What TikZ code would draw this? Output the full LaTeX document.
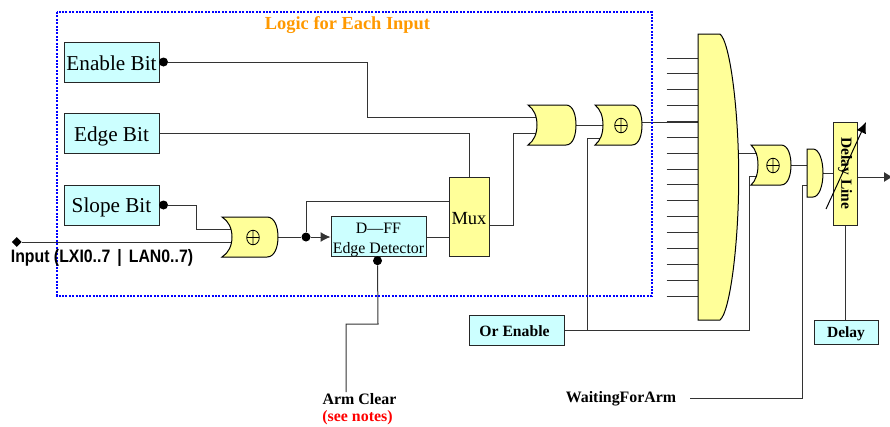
\documentclass[tikz,border=0pt]{standalone}
\usepackage{fontspec}
\setmainfont{Liberation Serif}
\newfontfamily\lsans{Liberation Sans}
\usetikzlibrary{backgrounds,arrows.meta,calc,shapes.geometric}
\definecolor{boxcyan}{HTML}{CCFFFF}
\definecolor{gateyellow}{HTML}{FFFF99}
\definecolor{wire}{HTML}{333333}
\definecolor{titleorange}{HTML}{FF9900}
\tikzset{
  wireline/.style={draw=wire,line width=1pt},
  cyanbox/.style={draw=black!85,fill=boxcyan,line width=1pt,inner sep=0pt,font=\fontsize{21.2}{22}\selectfont},
  yellowbox/.style={draw=black!85,fill=gateyellow,line width=1pt,inner sep=0pt},
  gatebody/.style={draw=black,fill=gateyellow,line width=1pt},
  joint/.style={circle,fill=black,inner sep=0pt,minimum size=9pt},
  boldlabel/.style={font=\fontsize{15.9}{16}\selectfont\bfseries,inner sep=0pt},
}
\newcommand{\lowered}[2]{\smash{\raisebox{-#1pt}{#2}}}
\newcommand{\gateshape}[7]{%
  \coordinate (#1) at ({(#2+#3)/2},{(#4+#5)/2});
  \path[gatebody] (#2,#4) -- (#7,#4) .. controls ({#7+0.7*(#3-#7)},#4) and (#3,{#4+0.25*(#5-#4)}) .. (#3,{(#4+#5)/2})
    .. controls (#3,{#4+0.75*(#5-#4)}) and ({#7+0.7*(#3-#7)},#5) .. (#7,#5) -- (#2,#5)
    .. controls ({#2+0.65*(#6-#2)},{#5-0.1*(#5-#4)}) and (#6,{#4+0.72*(#5-#4)}) .. (#6,{(#4+#5)/2})
    .. controls (#6,{#4+0.28*(#5-#4)}) and ({#2+0.65*(#6-#2)},{#4+0.1*(#5-#4)}) .. (#2,#4) -- cycle;
}
\newcommand{\xorsign}[2]{%
  \draw[black,line width=0.8pt] (#1,#2) ellipse (6.3pt and 7.3pt)
    (#1-6.3,#2) -- (#1+6.3,#2) (#1,#2-7.3) -- (#1,#2+7.3);
}
\begin{document}
\begin{tikzpicture}[x=1pt,y=-1pt]
\useasboundingbox (0,0) rectangle (890,426);

% logic frame
\draw[blue,line width=1.8pt,dash pattern=on 2pt off 1.4pt] (57,12) rectangle (652,296);
\node[font=\fontsize{18.4}{20}\selectfont\bfseries,text=titleorange,inner sep=0pt] (title) at (347.5,25) {Logic for Each Input};

% boxes
\node[cyanbox,minimum width=95pt,minimum height=40pt] (enable) at (111.5,62) {\lowered{8}{Enable Bit}};
\node[cyanbox,minimum width=95pt,minimum height=40pt] (edge) at (111.5,133.5) {\lowered{8}{Edge Bit}};
\node[cyanbox,minimum width=95pt,minimum height=40pt] (slope) at (111.5,205) {\lowered{7.7}{Slope Bit}};
\node[cyanbox,minimum width=95pt,minimum height=39pt,align=center,font=\fontsize{15.9}{19.5}\selectfont] (dff) at (378.5,236.5) {\rule{0pt}{17pt}D—FF\\Edge Detector};
\node[yellowbox,minimum width=40pt,minimum height=79pt,font=\fontsize{18.5}{22}\selectfont] (mux) at (469,216.5) {\lowered{7.5}{Mux}};
\node[cyanbox,minimum width=95pt,minimum height=30pt,font=\fontsize{15.7}{18}\selectfont\bfseries] (orenable) at (516.5,330) {\lowered{6}{Or Enable\hspace{4pt}}};
\node[yellowbox,minimum width=24pt,minimum height=103pt] (delayline) at (845,173.5) {};
\node[cyanbox,minimum width=64pt,minimum height=24pt,font=\fontsize{15.5}{18}\selectfont\bfseries] (delay) at (846,332) {\lowered{5.5}{Delay}};

% gates
\gateshape{gxa}{222}{278}{217}{257}{232}{267}
\gateshape{gor}{528}{576}{105}{145}{537}{566}
\gateshape{gxb}{595}{642}{105}{145}{603}{632}
\gateshape{gxc}{751}{791}{145}{185}{758}{781}
\xorsign{253}{237.5}
\xorsign{621}{125.5}
\xorsign{773}{165.5}
% and gate
\path[gatebody] (807,149) -- (813,149) .. controls (819,149) and (823,160) .. (823,173) .. controls (823,186) and (819,197) .. (813,197) -- (807,197) -- cycle;
\coordinate (gand) at (807,165);
% wide or
\path[gatebody] (698,34) -- (720,34) .. controls (730,42) and (738.7,110) .. (738.7,177) .. controls (738.7,244) and (730,312) .. (720,320) -- (698,320) -- cycle;
\coordinate (wide) at (698,122);

% free ends
\node[diamond,fill=black,inner sep=0pt,minimum size=10pt,shape aspect=1] at (16.7,242) (inpt) {};
\coordinate (wf) at (690,398);
\coordinate (arm) at (346,392);
\coordinate (out) at (893,177);

% joints
\node[joint] (jen) at (163.5,62) {};
\node[joint] (jsl) at (163.5,205) {};
\node[joint] (jxo) at (306,237) {};
\node[joint] (jff) at (377.5,260.7) {};

\begin{scope}[on background layer]
  \draw[wireline] (enable.east) -- (jen) -- (367,62) -- (367,117) -- (537,117);
  \draw[wireline] (edge.east) -- (469.5,133.5) -- (mux.north -| 469.5,0);
  \draw[wireline] (jsl) -- (196.5,205) -- (196.5,229) -- (231,229);
  \draw[wireline] (inpt) -- (231,242);
  \draw[wireline] (gxa.center -| 278,0) -- (jxo);
  \draw[wireline] (jxo) -- (306,201) -- (449,201);
  \draw[wireline,-{Latex[length=10pt,width=10pt]}] (jxo) -- (dff.west |- jxo);
  \draw[wireline] (dff.east |- 0,237.5) -- (449,237.5);
  \draw[wireline] (489,225) -- (513,225) -- (513,133) -- (537,133);
  \draw[wireline] (576,125) -- (605,125);
  \draw[wireline] (642,122) -- (wide);
  \draw[wireline] (orenable.east) -- (749,330) -- (749,176) -- (757,176);
  \draw[wireline] (587.5,330) -- (587.5,138) -- (601,138);
  \draw[wireline] (jff) -- (378,324) -- (346,324) -- (arm);
  \draw[wireline] (738,153) -- (758,153);
  \draw[wireline] (791,165) -- (gand);
  \draw[wireline] (wf) -- (802,398) -- (802,185) -- (807,185);
  \draw[wireline] (823,173) -- (delayline.west |- 0,173);
  \draw[wireline] (delayline.south) -- (delay.north -| delayline.south);
  \draw[wireline,-{Latex[length=9pt,width=10pt]}] (delayline.east |- out) -- (out);
  \foreach \i in {0,...,15} {
    \draw[wireline] (666.7,{58+15.87*\i}) -- (698,{58+15.87*\i});
  }
\end{scope}

% delay line text and trim arrow
\node[rotate=-90,font=\fontsize{15.5}{18}\selectfont\bfseries,inner sep=0pt] (dltext) at (845,173.5) {Delay Line};
\coordinate (trimA) at (826,209);
\coordinate (trimB) at (866,122);
\draw[black,line width=1pt,-{Latex[length=11pt,width=10pt]}] (trimA) -- (trimB);

% labels
\node[inner sep=0pt] (inlabel) at (102,258) {\scalebox{0.88}[1]{\lsans\fontsize{18}{20}\selectfont\bfseries Input (LXI0..7 \,|\, LAN0..7)}};
\node[boldlabel] (armlabel) at (359.5,399) {Arm Clear};
\node[boldlabel,text=red] (seenotes) at (357.5,418) {(see notes)};
\node[boldlabel] (wflabel) at (621,398.5) {WaitingForArm};
\end{tikzpicture}
\end{document}
